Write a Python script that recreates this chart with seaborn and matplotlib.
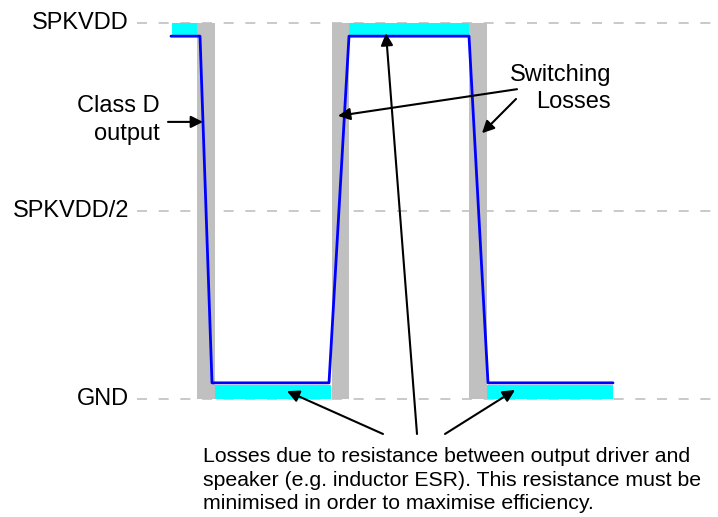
import matplotlib
matplotlib.use("Agg")
import matplotlib.pyplot as plt
import seaborn as sns
import pandas as pd

# Output levels (fraction of SPKVDD) and their labels
levels = [1.0, 0.5, 0.0]
level_labels = ["SPKVDD", "SPKVDD/2", "GND"]

# Class D output waveform (time in arbitrary units, voltage as fraction of SPKVDD)
wave_t = [171, 200, 212, 329, 349, 469, 488, 613]
wave_v = [0.965, 0.965, 0.043, 0.043, 0.965, 0.965, 0.043, 0.043]

# Switching loss windows (start, end)
switch_windows = [(197, 215), (332, 349), (469, 487)]

# Resistive (conduction) loss bands
high_loss = [(172, 197), (349, 469)]
low_loss = [(215, 331), (487, 613)]
high_band = (0.968, 1.0)
low_band = (0.0, 0.037)

sns.set_style("white")
plt.rcParams["font.family"] = ["Liberation Sans", "DejaVu Sans"]
plt.rcParams["text.color"] = "black"

fig = plt.figure(figsize=(7.18, 5.17), dpi=100)
ax = fig.add_axes([0, 0, 1, 1])
ax.set_xlim(0, 718)
ax.set_ylim(-0.3138, 1.0612)
ax.axis("off")

# dashed reference levels
ax.hlines(levels, 137, 718, colors="#c0c0c0", linewidth=1.2,
          linestyles=(0, (6, 7)), zorder=1)
for lv, lab in zip(levels, level_labels):
    ax.text(129, lv, lab, ha="right", va="center", fontsize=17, color="black")

# switching losses (grey)
for a, b in switch_windows:
    ax.fill_between([a, b], 0, 1, color="#c0c0c0", linewidth=0, zorder=2)

# resistive losses (cyan)
for a, b in high_loss:
    ax.fill_between([a, b], high_band[0], high_band[1], color="#00ffff", linewidth=0, zorder=3)
for a, b in low_loss:
    ax.fill_between([a, b], low_band[0], low_band[1], color="#00ffff", linewidth=0, zorder=3)

# waveform
df = pd.DataFrame({"t": wave_t, "v": wave_v})
sns.lineplot(data=df, x="t", y="v", ax=ax, color="#0000ff", linewidth=2.0,
             sort=False, zorder=4)
ax.set_xlabel("")
ax.set_ylabel("")

arrow = dict(arrowstyle="-|>", color="black", lw=1.5, mutation_scale=18,
             shrinkA=0, shrinkB=0)

# Class D output label
ax.text(160, 0.742, "Class D\noutput", ha="right", va="center",
        multialignment="right", fontsize=17, linespacing=1.4, color="black")
ax.annotate("", xy=(203, 0.737), xytext=(168, 0.737), arrowprops=arrow, zorder=5)

# Switching losses label
ax.text(611, 0.827, "Switching\nLosses", ha="right", va="center",
        multialignment="right", fontsize=17, linespacing=1.3, color="black")
ax.annotate("", xy=(338, 0.753), xytext=(517, 0.824), arrowprops=arrow, zorder=5)
ax.annotate("", xy=(482, 0.707), xytext=(516, 0.798), arrowprops=arrow, zorder=5)

# resistive loss note
ax.annotate("", xy=(287, 0.021), xytext=(383, -0.093), arrowprops=arrow, zorder=5)
ax.annotate("", xy=(386, 0.973), xytext=(417, -0.093), arrowprops=arrow, zorder=5)
ax.annotate("", xy=(515, 0.024), xytext=(445, -0.093), arrowprops=arrow, zorder=5)
ax.text(203, -0.216,
        "Losses due to resistance between output driver and\n"
        "speaker (e.g. inductor ESR). This resistance must be\n"
        "minimised in order to maximise efficiency.",
        ha="left", va="center", fontsize=15.3, linespacing=1.3, color="black")

fig.savefig("out.png", dpi=100)
